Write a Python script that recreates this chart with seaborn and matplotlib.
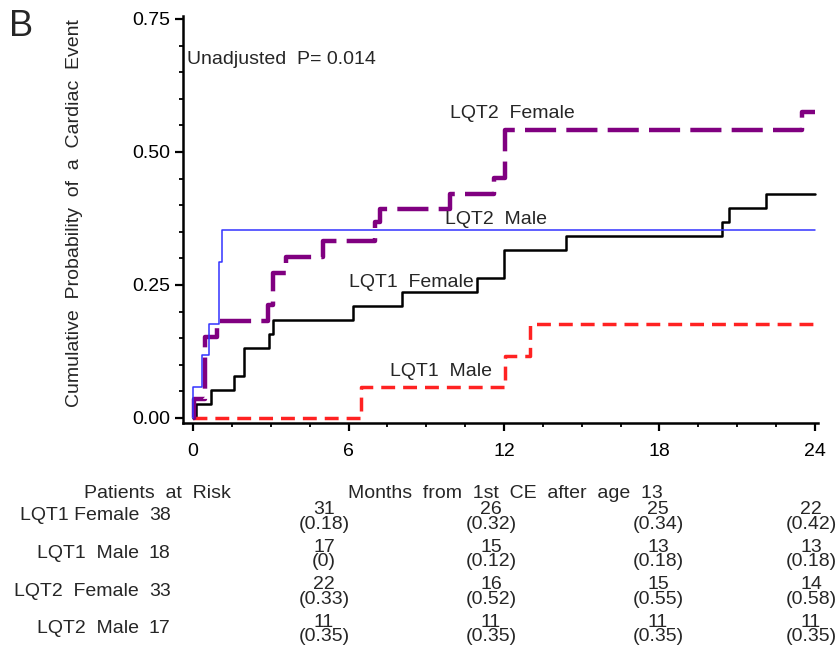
import numpy as np
import pandas as pd
import matplotlib
matplotlib.use("Agg")
import matplotlib.pyplot as plt
import seaborn as sns
from matplotlib.ticker import MultipleLocator, FixedLocator

# ---------------- data ----------------
lqt1_female_t = [0, 0.10, 0.69, 1.58, 1.98, 2.94, 3.10, 6.16, 8.05, 10.97, 12.0, 14.39, 20.40, 20.70, 22.10, 24.0]
lqt1_female_p = [0, 0.026, 0.053, 0.079, 0.132, 0.158, 0.184, 0.211, 0.237, 0.263, 0.316, 0.342, 0.368, 0.395, 0.421, 0.421]

lqt1_male_t = [0, 6.50, 12.04, 13.00, 24.0]
lqt1_male_p = [0, 0.058, 0.116, 0.176, 0.176]

lqt2_female_t = [0, 0.05, 0.46, 0.91, 2.90, 3.10, 3.60, 5.03, 7.02, 7.20, 9.90, 11.60, 12.04, 23.50, 24.0]
lqt2_female_p = [0, 0.035, 0.152, 0.182, 0.212, 0.273, 0.303, 0.333, 0.368, 0.392, 0.421, 0.451, 0.542, 0.575, 0.575]

lqt2_male_t = [0, 0.0, 0.33, 0.63, 1.01, 1.12, 24.0]
lqt2_male_p = [0, 0.059, 0.118, 0.176, 0.294, 0.353, 0.353]

groups = ["LQT1 Female", "LQT1  Male", "LQT2  Female", "LQT2  Male"]
initial_at_risk = [38, 18, 33, 17]
risk_months = [6, 12, 18, 24]
risk_counts = [[31, 26, 25, 22],
               [17, 15, 13, 13],
               [22, 16, 15, 14],
               [11, 11, 11, 11]]
risk_probs = [["0.18", "0.32", "0.34", "0.42"],
              ["0", "0.12", "0.18", "0.18"],
              ["0.33", "0.52", "0.55", "0.58"],
              ["0.35", "0.35", "0.35", "0.35"]]

x_ticks = [0, 6, 12, 18, 24]
y_ticks = [0.00, 0.25, 0.50, 0.75]

# ---------------- styling ----------------
sns.set_style("ticks")
plt.rcParams["font.family"] = ["Liberation Sans", "DejaVu Sans"]
FS = 14

W, H = 839, 658
fig = plt.figure(figsize=(W / 100, H / 100), dpi=100)
fig.patch.set_facecolor("white")


def fx(px):
    return px / W


def fy(py):
    return 1 - py / H


ax = fig.add_axes([fx(183), fy(423), fx(818) - fx(183), fy(16) - fy(423)])
ax.set_facecolor("white")

series = [
    (lqt1_female_t, lqt1_female_p, "black", 1.8, "-"),
    (lqt1_male_t, lqt1_male_p, "#FF2222", 2.5, (0, (4.0, 2.3))),
    (lqt2_female_t, lqt2_female_p, "#800080", 3.2, (0, (7.0, 2.3))),
    (lqt2_male_t, lqt2_male_p, "#3333FF", 1.1, "-"),
]
for (t, p, c, lw, ls), g in zip(series, groups):
    df = pd.DataFrame({"month": t, "prob": p})
    sns.lineplot(data=df, x="month", y="prob", ax=ax, color=c, linewidth=lw,
                 linestyle=ls, drawstyle="steps-post", estimator=None,
                 sort=False, legend=False)

ax.set_xlim(-0.386, 24.116)
ax.set_ylim(-0.0094, 0.7556)
sns.despine(ax=ax)
for s in ["left", "bottom"]:
    ax.spines[s].set_linewidth(1.8)
    ax.spines[s].set_color("black")

ax.xaxis.set_major_locator(FixedLocator(x_ticks))
ax.xaxis.set_minor_locator(MultipleLocator(1.5))
ax.yaxis.set_major_locator(FixedLocator(y_ticks))
ax.yaxis.set_minor_locator(MultipleLocator(0.05))
ax.set_xticklabels([str(v) for v in x_ticks])
ax.set_yticklabels([f"{v:.2f}" for v in y_ticks])
ax.tick_params(axis="both", which="major", direction="out", length=5.5, width=1.6,
               labelsize=FS, color="black", labelcolor="black")
ax.tick_params(axis="both", which="minor", direction="out", length=3, width=1.3, color="black")
ax.tick_params(axis="x", which="major", pad=9)
ax.tick_params(axis="y", which="major", pad=4)
ax.set_xlabel("")
ax.set_ylabel("")

# curve labels
ax.text(12.31, 0.573, "LQT2  Female", fontsize=FS, ha="center", va="center")
ax.text(11.69, 0.374, "LQT2  Male", fontsize=FS, ha="center", va="center")
ax.text(8.41, 0.254, "LQT1  Female", fontsize=FS, ha="center", va="center")
ax.text(9.57, 0.088, "LQT1  Male", fontsize=FS, ha="center", va="center")
ax.text(-0.23, 0.673, "Unadjusted  P= 0.014", fontsize=FS, ha="left", va="center")

# panel letter and y label
fig.text(fx(21), fy(26), "B", fontsize=26, ha="center", va="center")
fig.text(fx(75), fy(213), "Cumulative  Probability  of  a  Cardiac  Event",
         fontsize=FS, rotation=90, ha="center", va="center")

# risk table
fig.text(fx(157), fy(493), "Patients  at  Risk", fontsize=FS, ha="center", va="center")
fig.text(fx(505), fy(493), "Months  from  1st  CE  after  age  13", fontsize=FS,
         ha="center", va="center")
col_px = [324, 491, 658, 811]
for i, g in enumerate(groups):
    yc = 516 + 37.5 * i
    fig.text(fx(139), fy(yc), g, fontsize=FS, ha="right", va="center")
    fig.text(fx(149), fy(yc), str(initial_at_risk[i]), fontsize=FS, ha="left", va="center")
    for j, m in enumerate(risk_months):
        fig.text(fx(col_px[j]), fy(yc + 1), f"{risk_counts[i][j]}\n({risk_probs[i][j]})",
                 fontsize=FS, ha="center", va="center", multialignment="center",
                 linespacing=0.78)

fig.savefig("out.png", dpi=100, facecolor="white")
